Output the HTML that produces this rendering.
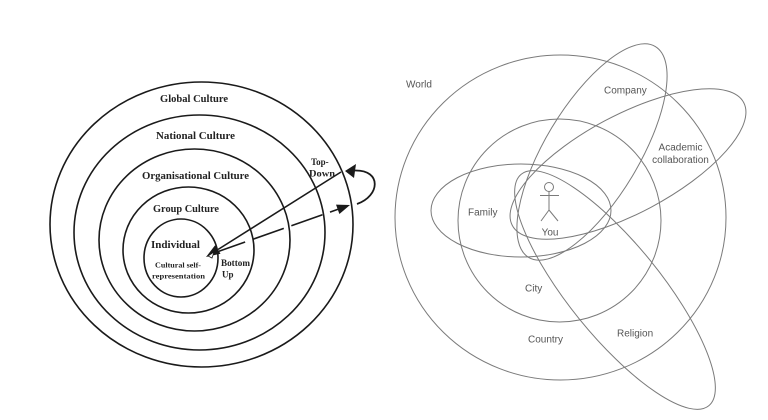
<!DOCTYPE html>
<html>
<head>
<meta charset="utf-8">
<style>
  html, body { margin: 0; padding: 0; background: #ffffff; }
  svg { display: block; }
  .lt { font-family: "Liberation Serif", serif; font-weight: bold; fill: #222; }
  .rt { font-family: "Liberation Sans", sans-serif; font-size: 10px; fill: #555; }
</style>
</head>
<body>
<svg width="768" height="420" viewBox="0 0 768 420" xmlns="http://www.w3.org/2000/svg">
  <rect width="768" height="420" fill="#ffffff"/>

  <!-- LEFT DIAGRAM -->
  <g fill="none" stroke="#1a1a1a" stroke-width="1.6">
    <ellipse cx="201.5" cy="224.5" rx="151.5" ry="142.5"/>
    <ellipse cx="199.5" cy="232.5" rx="125.5" ry="117.5"/>
    <ellipse cx="194.5" cy="240" rx="95.5" ry="91"/>
    <ellipse cx="188.5" cy="250" rx="65.5" ry="63"/>
    <ellipse cx="181" cy="258" rx="37" ry="39"/>
    <!-- solid top-down arrow -->
    <line x1="341" y1="172" x2="218" y2="249.5"/>
    <!-- dashed bottom-up arrow -->
    <line x1="214" y1="253" x2="338" y2="209.3" stroke-dasharray="33 8"/>
    <!-- curved arrow -->
    <path d="M357 204 C380 196 382 170 355 170.5" stroke-width="1.8"/>
  </g>
  <g fill="#1a1a1a">
    <polygon points="206,257 220.5,253.7 215.1,245.3"/>
    <polygon points="350,205 339.4,214 336,204.6"/>
    <polygon points="345,171 356,164 354,178"/>
  </g>
  <polygon points="208,256 214,252 212,258" fill="#fff" stroke="#1a1a1a" stroke-width="0.8"/>

  <text class="lt" x="194" y="102" font-size="10.6" text-anchor="middle" textLength="68" lengthAdjust="spacingAndGlyphs">Global Culture</text>
  <text class="lt" x="195.5" y="139" font-size="10.8" text-anchor="middle" textLength="79" lengthAdjust="spacingAndGlyphs">National Culture</text>
  <text class="lt" x="195.5" y="179" font-size="10.7" text-anchor="middle" textLength="107" lengthAdjust="spacingAndGlyphs">Organisational Culture</text>
  <text class="lt" x="186" y="212" font-size="10.7" text-anchor="middle" textLength="66" lengthAdjust="spacingAndGlyphs">Group Culture</text>
  <text class="lt" x="175.5" y="248" font-size="11" text-anchor="middle" textLength="49" lengthAdjust="spacingAndGlyphs">Individual</text>
  <text class="lt" x="178" y="267.5" font-size="7.5" text-anchor="middle" textLength="46" lengthAdjust="spacingAndGlyphs">Cultural self-</text>
  <text class="lt" x="178.5" y="278.5" font-size="7.5" text-anchor="middle" textLength="53" lengthAdjust="spacingAndGlyphs">representation</text>
  <text class="lt" x="221" y="266" font-size="9" textLength="29" lengthAdjust="spacingAndGlyphs">Bottom</text>
  <text class="lt" x="222" y="277.5" font-size="9">Up</text>
  <text class="lt" x="311" y="165" font-size="9">Top-</text>
  <text class="lt" x="309" y="176.5" font-size="9" textLength="26" lengthAdjust="spacingAndGlyphs">Down</text>

  <!-- RIGHT DIAGRAM -->
  <g fill="none" stroke="#7a7a7a" stroke-width="1">
    <ellipse cx="560.5" cy="217.5" rx="165.5" ry="162.5"/>
    <circle cx="559.5" cy="220.5" r="101.5"/>
    <ellipse cx="521" cy="210.5" rx="90" ry="46.5"/>
    <ellipse cx="592" cy="152" rx="123" ry="47" transform="rotate(-59 592 152)"/>
    <ellipse cx="628" cy="164" rx="131" ry="49" transform="rotate(-28 628 164)"/>
    <ellipse cx="615" cy="290" rx="149" ry="46" transform="rotate(51 615 290)"/>
    <!-- stick figure -->
    <circle cx="549" cy="187" r="4.5"/>
    <line x1="549" y1="191.5" x2="549" y2="210"/>
    <line x1="540" y1="195.5" x2="559" y2="195.5"/>
    <line x1="549" y1="210" x2="541" y2="221"/>
    <line x1="549" y1="210" x2="558" y2="221"/>
  </g>

  <text class="rt" x="406" y="87.5">World</text>
  <text class="rt" x="604" y="93.5">Company</text>
  <text class="rt" x="680.5" y="150.5" text-anchor="middle">Academic</text>
  <text class="rt" x="680.5" y="163" text-anchor="middle">collaboration</text>
  <text class="rt" x="468" y="215.5">Family</text>
  <text class="rt" x="550" y="235.5" text-anchor="middle">You</text>
  <text class="rt" x="525" y="291.5">City</text>
  <text class="rt" x="528" y="342.5">Country</text>
  <text class="rt" x="617" y="336.5">Religion</text>
</svg>
</body>
</html>
